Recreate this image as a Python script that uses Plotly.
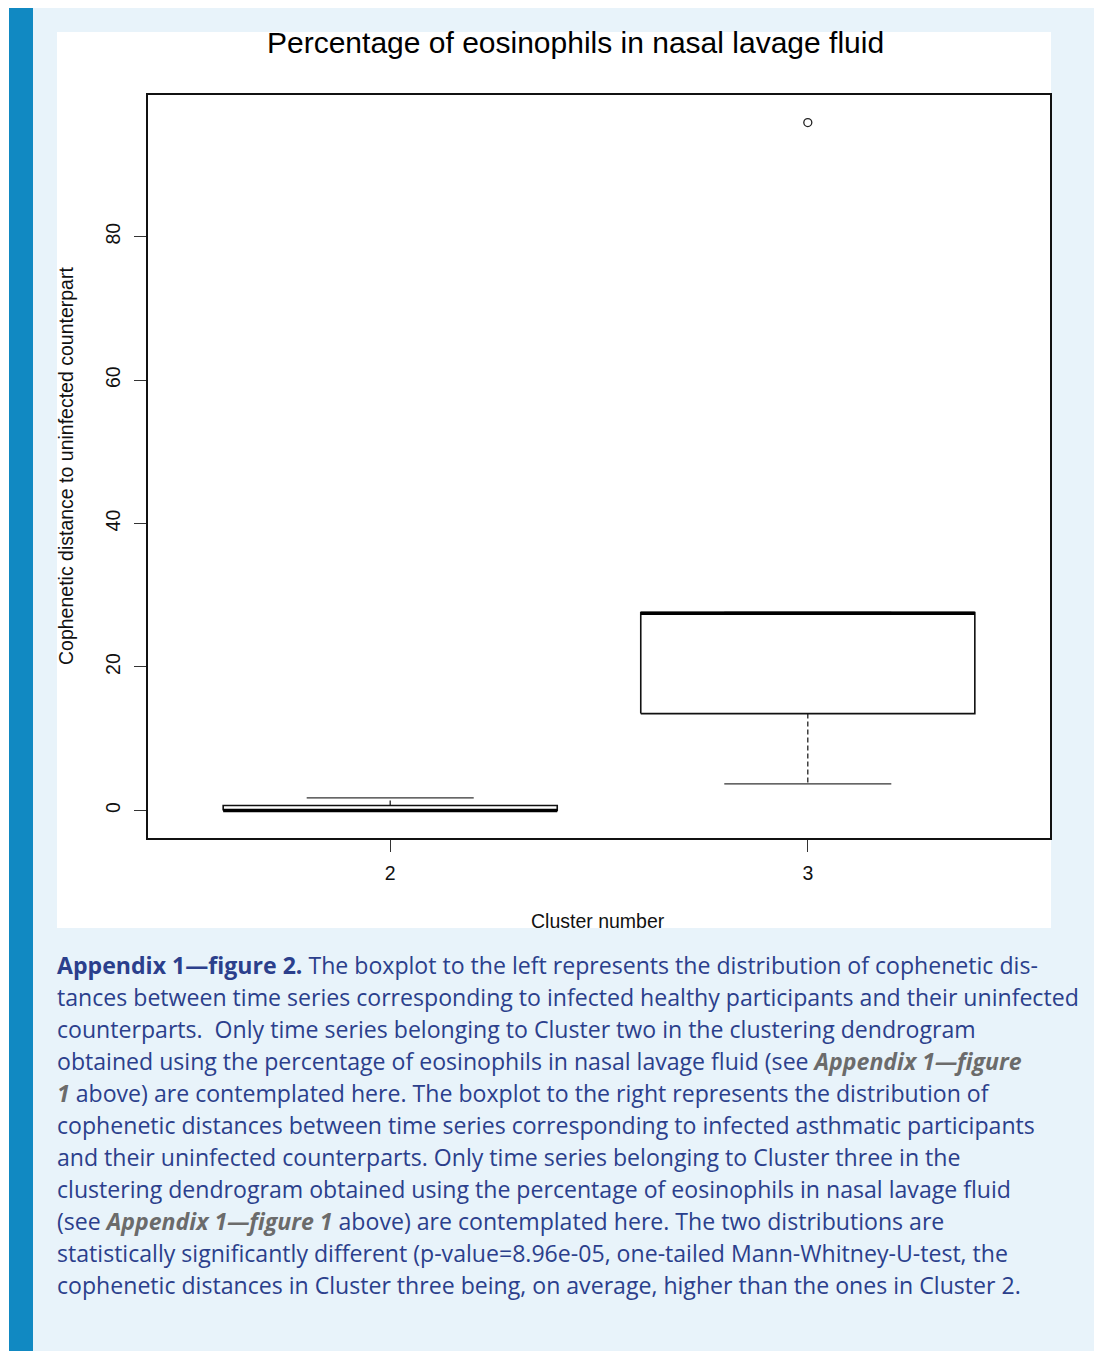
import plotly.graph_objects as go

# ---- data -------------------------------------------------------------
clusters = ["2", "3"]
positions = [1, 2]
q1 = [0.0, 13.5]
median = [0.0, 27.5]
q3 = [0.7, 27.6]
whisker_low = [0.0, 3.7]
whisker_high = [1.75, 27.6]
outliers = [[], [95.9]]
y_ticks = [0, 20, 40, 60, 80]

title_text = "Percentage of eosinophils in nasal lavage fluid"
x_title = "Cluster number"
y_title = "Cophenetic distance to uninfected counterpart"

caption_lines = [
    "<b>Appendix 1—figure 2.</b> The boxplot to the left represents the distribution of cophenetic dis-",
    "tances between time series corresponding to infected healthy participants and their uninfected",
    "counterparts.  Only time series belonging to Cluster two in the clustering dendrogram",
    "obtained using the percentage of eosinophils in nasal lavage fluid (see "
    "<b><i><span style='color:#6b6b6b'>Appendix 1—figure</span></i></b>",
    "<b><i><span style='color:#6b6b6b'>1</span></i></b> above) are contemplated here. "
    "The boxplot to the right represents the distribution of",
    "cophenetic distances between time series corresponding to infected asthmatic participants",
    "and their uninfected counterparts. Only time series belonging to Cluster three in the",
    "clustering dendrogram obtained using the percentage of eosinophils in nasal lavage fluid",
    "(see <b><i><span style='color:#6b6b6b'>Appendix 1—figure 1</span></i></b> above) "
    "are contemplated here. The two distributions are",
    "statistically significantly different (p-value=8.96e-05, one-tailed Mann-Whitney-U-test, the",
    "cophenetic distances in Cluster three being, on average, higher than the ones in Cluster 2.",
]

# ---- page geometry (pixels) --------------------------------------------
W, H = 1097, 1351
BOX_HALF = 0.4
STAPLE_HALF = 0.2


def px(x):
    return x / W


def py(y):
    return 1 - y / H


# ---- box-plot geometry built from the statistics ------------------------
box_x, box_y = [], []
med_x, med_y = [], []
wh_x, wh_y = [], []
st_x, st_y = [], []
out_x, out_y = [], []
for p, a, m, b, lo, hi, outs in zip(positions, q1, median, q3,
                                    whisker_low, whisker_high, outliers):
    box_x += [p - BOX_HALF, p + BOX_HALF, p + BOX_HALF, p - BOX_HALF, p - BOX_HALF, None]
    box_y += [a, a, b, b, a, None]
    med_x += [p - BOX_HALF, p + BOX_HALF, None]
    med_y += [m, m, None]
    wh_x += [p, p, None, p, p, None]
    wh_y += [b, hi, None, a, lo, None]
    st_x += [p - STAPLE_HALF, p + STAPLE_HALF, None, p - STAPLE_HALF, p + STAPLE_HALF, None]
    st_y += [hi, hi, None, lo, lo, None]
    out_x += [p] * len(outs)
    out_y += list(outs)

fig = go.Figure()
fig.add_trace(go.Scatter(x=wh_x, y=wh_y, mode="lines",
                         line=dict(color="#222", width=1.3, dash="5px,3px"),
                         hoverinfo="skip"))
fig.add_trace(go.Scatter(x=st_x, y=st_y, mode="lines",
                         line=dict(color="#333", width=1.3), hoverinfo="skip"))
fig.add_trace(go.Scatter(x=box_x, y=box_y, mode="lines",
                         line=dict(color="#111", width=1.6), hoverinfo="skip"))
fig.add_trace(go.Scatter(x=med_x, y=med_y, mode="lines",
                         line=dict(color="#000", width=3.5), hoverinfo="skip"))
fig.add_trace(go.Scatter(x=out_x, y=out_y, mode="markers",
                         marker=dict(symbol="circle-open", size=8,
                                     color="#222", line=dict(width=1.3)),
                         hoverinfo="skip"))

# ---- page background: panel, side stripe and white chart area ----------
shapes = [
    dict(type="rect", xref="paper", yref="paper", x0=px(9), x1=px(1094),
         y0=py(1351), y1=py(8), fillcolor="#e8f3fa", line=dict(width=0), layer="below"),
    dict(type="rect", xref="paper", yref="paper", x0=px(9), x1=px(33),
         y0=py(1351), y1=py(8), fillcolor="#1189c2", line=dict(width=0), layer="below"),
    dict(type="rect", xref="paper", yref="paper", x0=px(57), x1=px(1051),
         y0=py(928), y1=py(32), fillcolor="#ffffff", line=dict(width=0), layer="below"),
]

axis_font = dict(family="Liberation Sans, Arial", size=19.5, color="#111")

annotations = [
    dict(text=title_text, x=px(575.5), y=py(43), xref="paper", yref="paper",
         showarrow=False, xanchor="center", yanchor="middle",
         font=dict(family="Liberation Sans, Arial", size=30, color="#000")),
    dict(text=x_title, x=px(598), y=py(921), xref="paper", yref="paper",
         showarrow=False, xanchor="center", yanchor="middle", font=axis_font),
    dict(text=y_title, x=px(66), y=py(466), xref="paper", yref="paper",
         showarrow=False, xanchor="center", yanchor="middle", textangle=-90,
         font=axis_font),
]

caption_font = dict(family="Open Sans", size=23.1, color="#2b3f8c")
for i, line in enumerate(caption_lines):
    annotations.append(dict(text=line, x=px(55), y=py(965 + 32 * i),
                            xref="paper", yref="paper", showarrow=False,
                            xanchor="left", yanchor="middle", align="left",
                            font=caption_font))

fig.update_layout(
    width=W, height=H,
    margin=dict(l=0, r=0, t=0, b=0),
    paper_bgcolor="#ffffff",
    plot_bgcolor="rgba(0,0,0,0)",
    showlegend=False,
    shapes=shapes,
    annotations=annotations,
    xaxis=dict(domain=[px(148), px(1050)], range=[0.42, 2.58],
               tickvals=positions, ticktext=clusters,
               showgrid=False, zeroline=False,
               showline=True, mirror=True, linecolor="#111", linewidth=1.5,
               ticks="outside", ticklen=12, tickwidth=1.3, tickcolor="#333",
               ticklabelstandoff=5, tickfont=axis_font),
    yaxis=dict(domain=[py(838), py(95)], range=[-3.84, 99.74],
               tickvals=y_ticks, showgrid=False, zeroline=False,
               showline=True, mirror=True, linecolor="#111", linewidth=1.5,
               ticks="outside", ticklen=12, tickwidth=1.3, tickcolor="#333",
               tickangle=-90, ticklabelstandoff=6, tickfont=axis_font),
)

fig.write_html("out.html")
